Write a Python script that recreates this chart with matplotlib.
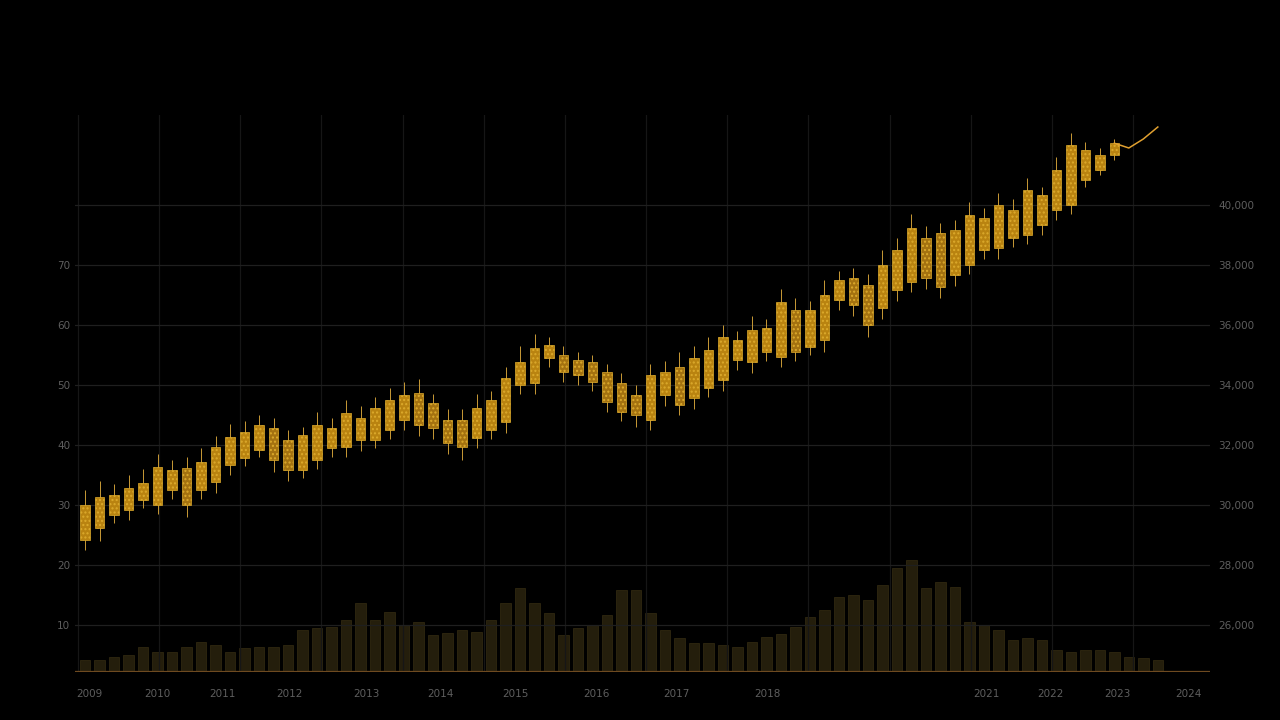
"""
Dark gold candlestick chart with volume bars.
Saves out.png.
"""
import matplotlib.pyplot as plt
import numpy as np
from matplotlib.patches import Rectangle

# candle bodies (bottom / top of body), wicks
body_lo = [24.2, 26.2, 28.3, 29.2, 30.8, 30.0, 32.5, 30.0, 32.5, 33.8,
           36.7, 37.8, 39.2, 37.5, 35.8, 35.8, 37.5, 39.5, 39.7, 40.8,
           40.8, 42.5, 44.2, 43.3, 42.8, 40.3, 39.7, 41.2, 42.5, 43.8,
           50.0, 50.3, 54.5, 52.2, 51.7, 50.5, 47.2, 45.5, 45.0, 44.2,
           48.3, 46.7, 47.8, 49.5, 50.8, 54.2, 53.8, 55.5, 54.7, 55.5,
           56.3, 57.5, 64.2, 63.3, 60.0, 62.8, 65.8, 67.2, 67.8, 66.3,
           68.3, 70.0, 72.5, 72.8, 74.5, 75.0, 76.7, 79.2, 80.0, 84.2,
           85.8, 88.3]
body_hi = [30.0, 31.3, 31.7, 32.8, 33.7, 36.3, 35.8, 36.2, 37.2, 39.7,
           41.3, 42.2, 43.3, 42.8, 40.8, 41.7, 43.3, 42.8, 45.3, 44.5,
           46.2, 47.5, 48.3, 48.7, 47.0, 44.2, 44.2, 46.2, 47.5, 51.2,
           53.8, 56.2, 56.7, 55.0, 54.2, 53.8, 52.2, 50.3, 48.3, 51.7,
           52.2, 53.0, 54.5, 55.8, 58.0, 57.5, 59.2, 59.5, 63.8, 62.5,
           62.5, 65.0, 67.5, 67.8, 66.7, 70.0, 72.5, 76.2, 74.5, 75.3,
           75.8, 78.3, 77.8, 80.0, 79.2, 82.5, 81.7, 85.8, 90.0, 89.2,
           88.3, 90.3]
highs = [32.5, 34.0, 33.5, 35.0, 36.0, 38.5, 37.5, 38.0, 39.5, 41.5,
         43.5, 44.0, 45.0, 44.5, 42.5, 43.0, 45.5, 44.5, 47.5, 46.5,
         48.0, 49.5, 50.5, 51.0, 48.5, 46.0, 46.0, 48.5, 49.0, 53.0,
         56.5, 58.5, 58.0, 56.5, 55.5, 55.0, 53.5, 52.0, 50.0, 53.5,
         54.0, 55.5, 56.5, 58.0, 60.0, 59.0, 61.5, 61.0, 66.0, 64.5,
         64.0, 67.5, 69.0, 69.5, 68.5, 72.5, 74.5, 78.5, 76.5, 77.0,
         77.5, 80.5, 79.5, 82.0, 81.0, 84.5, 83.0, 88.0, 92.0, 90.5,
         89.5, 91.0]
lows = [22.5, 24.0, 27.0, 27.5, 29.5, 28.5, 31.0, 28.0, 31.0, 32.0,
        35.0, 36.5, 38.0, 35.5, 34.0, 34.5, 36.0, 38.0, 38.0, 39.0,
        39.5, 41.0, 42.5, 41.5, 41.0, 38.5, 37.5, 39.5, 41.0, 42.0,
        48.5, 48.5, 53.0, 50.5, 50.0, 49.0, 45.5, 44.0, 43.0, 42.5,
        46.5, 45.0, 46.0, 48.0, 49.0, 52.5, 52.0, 54.0, 53.0, 54.0,
        55.0, 55.5, 62.5, 61.5, 58.0, 61.0, 64.0, 65.5, 66.0, 64.5,
        66.5, 68.5, 71.0, 71.0, 73.0, 73.5, 75.0, 77.5, 78.5, 83.0,
        85.0, 87.5]
# last few periods drawn as a thin line
tail_close = [90.3, 89.5, 91.0, 93.0]

volume = [12, 12, 15, 17, 25, 20, 20, 25, 30, 27,
          20, 24, 25, 25, 27, 42, 44, 45, 52, 69,
          52, 60, 47, 50, 37, 39, 42, 40, 52, 69,
          84, 69, 59, 37, 44, 47, 57, 82, 82, 59,
          42, 34, 29, 29, 27, 25, 30, 35, 38, 45,
          55, 62, 75, 77, 72, 87, 104, 112, 84, 90,
          85, 50, 47, 42, 32, 34, 32, 22, 20, 22,
          22, 20, 15, 14, 12]

left_ticks = [10, 20, 30, 40, 50, 60, 70, 80]
left_labels = ['10', '20', '30', '40', '50', '60', '70', '']
right_ticks = [26000, 28000, 30000, 32000, 34000, 36000, 38000, 40000]
x_tick_pos = [0.3, 5.0, 9.5, 14.1, 19.4, 24.5, 29.7, 35.3, 40.8, 47.1,
              62.2, 66.6, 71.2, 76.1]
x_tick_labels = ['2009', '2010', '2011', '2012', '2013', '2014', '2015',
                 '2016', '2017', '2018', '2021', '2022', '2023', '2024']

BG = '#000000'
GOLD = '#b98310'
GOLD_EDGE = '#dcaa2c'
DOWN = '#a47210'
GRID = '#1f1f1f'
TXT = '#5e5e5e'

fig = plt.figure(figsize=(12.8, 7.2), dpi=100, facecolor=BG)
ax = fig.add_axes([75 / 1280, 48 / 720, 1135 / 1280, 557 / 720])
ax.set_facecolor(BG)

# volume on a hidden twin axis, behind the candles
vax = ax.twinx()
vax.set_zorder(0)
ax.set_zorder(1)
ax.patch.set_visible(False)
vax.bar(range(len(volume)), volume, width=0.72, color='#241e0c',
        edgecolor='#2f2710', linewidth=0.6)
vax.set_ylim(0, 557)
vax.set_yticks([])
for s in vax.spines.values():
    s.set_visible(False)

# candles
w = 0.66
for i in range(len(body_lo)):
    prev_mid = (body_lo[i - 1] + body_hi[i - 1]) / 2 if i else 0
    mid = (body_lo[i] + body_hi[i]) / 2
    face = GOLD if mid >= prev_mid else DOWN
    ax.vlines(i, lows[i], highs[i], color='#c99a36', linewidth=0.7, zorder=2)
    ax.add_patch(Rectangle((i - w / 2, body_lo[i]), w, body_hi[i] - body_lo[i],
                           facecolor=face, edgecolor=GOLD_EDGE, linewidth=0.5,
                           hatch='....', zorder=3))
n = len(body_lo)
ax.plot(range(n - 1, n - 1 + len(tail_close)), tail_close, color='#e0a030',
        linewidth=1.1, zorder=3)

ax.set_xlim(-0.7, 77.6)
ax.set_ylim(2.17, 95)
ax.set_yticks(left_ticks)
ax.set_yticklabels(left_labels)
ax.set_xticks(x_tick_pos)
ax.set_xticklabels(x_tick_labels)
ax.set_xticks(np.arange(-0.5, 77, 5.6), minor=True)
ax.grid(axis='y', color=GRID, linewidth=0.9)
ax.grid(axis='x', which='minor', color='#161616', linewidth=0.9)
ax.tick_params(which='both', length=0, colors=TXT, labelsize=7.5)
ax.tick_params(axis='x', pad=12)
for s in ax.spines.values():
    s.set_visible(False)
ax.axhline(2.17, color='#6e4a20', linewidth=1.6, zorder=4)

sec = ax.secondary_yaxis('right', functions=(lambda p: 24000 + 200 * p,
                                             lambda v: (v - 24000) / 200))
sec.set_yticks(right_ticks)
sec.set_yticklabels([f'{v:,}' for v in right_ticks])
sec.tick_params(length=0, colors=TXT, labelsize=7.5, pad=6)
for s in sec.spines.values():
    s.set_visible(False)

plt.savefig('out.png', dpi=100, facecolor=BG)
plt.close()
